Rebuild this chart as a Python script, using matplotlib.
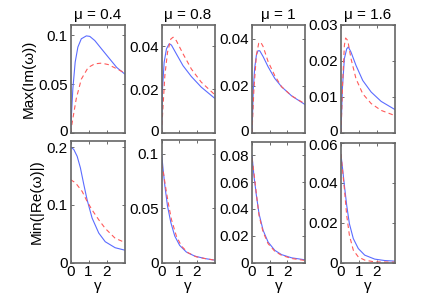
import matplotlib
matplotlib.use("Agg")
import matplotlib.pyplot as plt
import matplotlib.transforms as mtransforms

plt.rcParams['font.family'] = ['Liberation Sans', 'DejaVu Sans']
plt.rcParams['font.size'] = 11

# values
mus = ['0.4', '0.8', '1', '1.6']

# Max(Im(omega)) vs gamma, blue solid / red dashed
top_g_blue = [
    [0, 0.13, 0.26, 0.41, 0.6, 0.88, 1.07, 1.35, 1.73, 2.1, 2.57, 3.0],
    [0, 0.056, 0.15, 0.28, 0.43, 0.56, 0.84, 1.22, 1.69, 2.25, 3.0],
    [0, 0.076, 0.15, 0.25, 0.34, 0.44, 0.63, 0.91, 1.29, 1.67, 2.24, 3.0],
    [0, 0.075, 0.19, 0.32, 0.41, 0.56, 0.84, 1.22, 1.69, 2.25, 3.0],
]
top_blue = [
    [0, 0.045, 0.0725, 0.088, 0.0965, 0.0995, 0.099, 0.0947, 0.086, 0.0776, 0.067, 0.0605],
    [0, 0.0203, 0.0326, 0.0388, 0.0411, 0.0406, 0.0365, 0.031, 0.026, 0.0211, 0.016],
    [0, 0.0189, 0.0274, 0.0331, 0.0349, 0.0349, 0.0324, 0.0281, 0.0231, 0.0196, 0.0157, 0.012],
    [0, 0.0122, 0.0206, 0.0233, 0.0238, 0.0224, 0.0187, 0.0145, 0.0113, 0.0087, 0.0065],
]
top_g_red = [
    [0, 0.13, 0.32, 0.6, 0.98, 1.35, 1.73, 2.1, 2.57, 3.0],
    [0, 0.09, 0.19, 0.34, 0.53, 0.66, 0.84, 1.22, 1.69, 2.25, 3.0],
    [0, 0.11, 0.25, 0.38, 0.49, 0.63, 0.91, 1.29, 1.67, 2.24, 3.0],
    [0, 0.094, 0.19, 0.26, 0.38, 0.56, 0.84, 1.22, 1.69, 2.25, 3.0],
]
top_red = [
    [0, 0.0144, 0.035, 0.055, 0.067, 0.0708, 0.0715, 0.070, 0.0657, 0.0616],
    [0, 0.0126, 0.0265, 0.0372, 0.0434, 0.0442, 0.0426, 0.0365, 0.0295, 0.0234, 0.0177],
    [0, 0.0189, 0.0331, 0.0381, 0.0386, 0.0367, 0.0303, 0.0243, 0.0196, 0.0157, 0.0123],
    [0, 0.0141, 0.0243, 0.0263, 0.0256, 0.0206, 0.015, 0.0108, 0.0081, 0.0062, 0.0048],
]

# Min(|Re(omega)|) vs gamma
bot_g = [
    [0, 0.18, 0.37, 0.55, 0.74, 0.92, 1.2, 1.57, 1.93, 2.48, 3.0],
    [0, 0.09, 0.19, 0.34, 0.53, 0.75, 1.03, 1.41, 1.88, 2.44, 3.0],
    [0, 0.11, 0.25, 0.4, 0.63, 0.91, 1.29, 1.67, 2.24, 3.0],
    [0, 0.09, 0.19, 0.32, 0.47, 0.69, 0.97, 1.33, 1.89, 2.44, 3.0],
]
bot_blue = [
    [0.2, 0.196, 0.184, 0.164, 0.135, 0.109, 0.077, 0.051, 0.036, 0.0256, 0.0215],
    [0.101, 0.086, 0.0707, 0.052, 0.0367, 0.0244, 0.0157, 0.0096, 0.0059, 0.0037, 0.0022],
    [0.08, 0.0647, 0.0499, 0.0363, 0.024, 0.0153, 0.0091, 0.0059, 0.0035, 0.002],
    [0.054, 0.047, 0.0387, 0.0287, 0.0195, 0.012, 0.007, 0.0037, 0.0017, 0.001, 0.0007],
]
bot_g_red = [
    [0, 0.28, 0.65, 0.92, 1.2, 1.57, 1.93, 2.48, 3.0],
    [0, 0.09, 0.22, 0.38, 0.56, 0.84, 1.13, 1.5, 1.97, 2.44, 3.0],
    [0, 0.11, 0.25, 0.4, 0.63, 0.91, 1.29, 1.67, 2.24, 3.0],
    [0, 0.09, 0.19, 0.32, 0.47, 0.69, 0.97, 1.33, 1.89, 3.0],
]
bot_red = [
    [0.1436, 0.138, 0.123, 0.106, 0.091, 0.074, 0.059, 0.042, 0.035],
    [0.0907, 0.0846, 0.0707, 0.055, 0.0398, 0.0244, 0.0151, 0.009, 0.0052, 0.0037, 0.0022],
    [0.078, 0.067, 0.051, 0.035, 0.0227, 0.0141, 0.0084, 0.0054, 0.003, 0.0015],
    [0.0545, 0.046, 0.037, 0.0237, 0.0137, 0.0062, 0.0028, 0.0012, 0.0003, 0.0002],
]

top_ylim = [0.111, 0.05, 0.046, 0.03]
top_yticks = [[0, 0.05, 0.1], [0, 0.02, 0.04], [0, 0.02, 0.04], [0, 0.01, 0.02, 0.03]]
top_ylabels = [['0', '0.05', '0.1'], ['0', '0.02', '0.04'], ['0', '0.02', '0.04'],
               ['0', '0.01', '0.02', '0.03']]
bot_ylim = [0.21, 0.113, 0.09, 0.06]
bot_yticks = [[0, 0.1, 0.2], [0, 0.05, 0.1], [0, 0.02, 0.04, 0.06, 0.08], [0, 0.02, 0.04, 0.06]]
bot_ylabels = [['0', '0.1', '0.2'], ['0', '0.05', '0.1'],
               ['0', '0.02', '0.04', '0.06', '0.08'], ['0', '0.02', '0.04', '0.06']]

W, H = 436, 298
fig = plt.figure(figsize=(W / 100, H / 100), dpi=100)

lefts = [70.5, 161.5, 252, 341]
widths = [54, 53, 53, 53.5]
bot_tops = [141.3, 139.8, 142, 143]
blue = '#5b6cff'
red = '#ff5a5a'


def style(ax):
    for s in ax.spines.values():
        s.set_color('#666666')
        s.set_linewidth(1.2)
    ax.tick_params(direction='in', length=2.5, width=0.6, color='#555555',
                   top=True, right=True, pad=2, labelsize=11)
    ax.set_xlim(0, 3)
    ax.set_xticks([0, 1, 2])


def nudge(label, dy_px):
    label.set_transform(label.get_transform() +
                        mtransforms.ScaledTranslation(0, dy_px / 100, fig.dpi_scale_trans))


for i in range(4):
    ax = fig.add_axes([lefts[i] / W, 1 - 132.7 / H, widths[i] / W, 108 / H])
    ax.plot(top_g_blue[i], top_blue[i], color=blue, lw=0.8)
    ax.plot(top_g_red[i], top_red[i], color=red, lw=0.8, ls=(0, (4, 3)))
    style(ax)
    ax.set_ylim(0, top_ylim[i])
    ax.set_yticks(top_yticks[i])
    labs = ax.set_yticklabels(top_ylabels[i])
    nudge(labs[0], 2)
    ax.set_xticklabels([])
    ax.set_title('μ = ' + mus[i], fontsize=11, pad=4)
    if i == 0:
        ax.set_ylabel('Max(Im(ω))', fontsize=11, labelpad=2)

    h = 262.5 - bot_tops[i]
    ax = fig.add_axes([lefts[i] / W, 1 - 262.5 / H, widths[i] / W, h / H])
    ax.plot(bot_g[i], bot_blue[i], color=blue, lw=0.8)
    ax.plot(bot_g_red[i], bot_red[i], color=red, lw=0.8, ls=(0, (4, 3)))
    style(ax)
    ax.set_ylim(0, bot_ylim[i])
    ax.set_yticks(bot_yticks[i])
    labs = ax.set_yticklabels(bot_ylabels[i])
    if i == 3:
        nudge(labs[-1], -2)
    ax.set_xticklabels(['0', '1', '2'])
    ax.set_xlabel('γ', fontsize=11, labelpad=0)
    if i == 0:
        ax.set_ylabel('Min(|Re(ω)|)', fontsize=11, labelpad=2)

fig.savefig('out.png', dpi=100)
